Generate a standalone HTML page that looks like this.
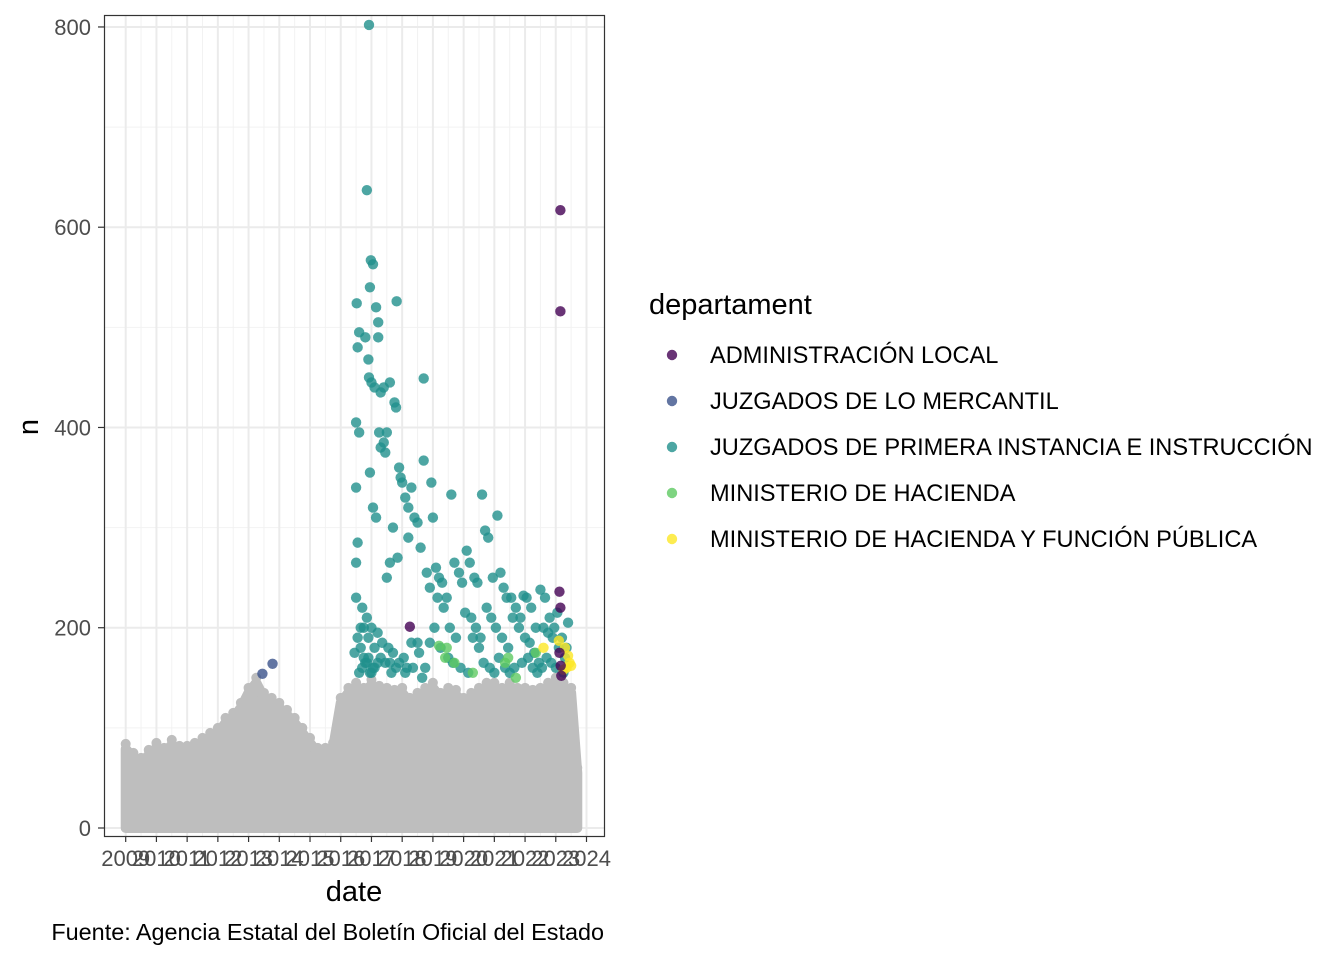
<!DOCTYPE html>
<html><head><meta charset="utf-8"><style>
body{margin:0;background:#fff;width:1344px;height:960px;overflow:hidden;font-family:"Liberation Sans",sans-serif}
</style></head><body>
<svg id="chart" width="1344" height="960" xmlns="http://www.w3.org/2000/svg" font-family="Liberation Sans, sans-serif">
<rect width="1344" height="960" fill="#fff"/>
<g id="grid"></g>
<g id="gray"></g>
<g id="pts"></g>
<rect x="104.5" y="15.5" width="500" height="821" fill="none" stroke="#333" stroke-width="1.2"/>
<g id="axes"></g>
<text x="354" y="901" font-size="29" text-anchor="middle" fill="#000">date</text>
<text transform="translate(38,427) rotate(-90)" font-size="29" text-anchor="middle" fill="#000">n</text>
<text x="604" y="940" font-size="23.4" text-anchor="end" fill="#000">Fuente: Agencia Estatal del Boletín Oficial del Estado</text>
<g id="legend">
<text x="649" y="314" font-size="29" fill="#000">departament</text>
</g>
</svg>
<script>
const yTicks=[0,200,400,600,800];
const xTicks=[2009,2010,2011,2012,2013,2014,2015,2016,2017,2018,2019,2020,2021,2022,2023,2024];
const departments=["ADMINISTRACIÓN LOCAL","JUZGADOS DE LO MERCANTIL","JUZGADOS DE PRIMERA INSTANCIA E INSTRUCCIÓN","MINISTERIO DE HACIENDA","MINISTERIO DE HACIENDA Y FUNCIÓN PÚBLICA"];
const colors=["#440154","#3b528b","#21908c","#5ec962","#fde725"];
const grayDates=[2009,2009.25,2009.5,2009.75,2010,2010.25,2010.5,2010.75,2011,2011.25,2011.5,2011.75,2012,2012.25,2012.5,2012.75,2013,2013.25,2013.5,2013.75,2014,2014.25,2014.5,2014.75,2015,2015.25,2015.5,2015.75,2016,2016.25,2016.5,2016.75,2017,2017.25,2017.5,2017.75,2018,2018.25,2018.5,2018.75,2019,2019.25,2019.5,2019.75,2020,2020.25,2020.5,2020.75,2021,2021.25,2021.5,2021.75,2022,2022.25,2022.5,2022.75,2023,2023.25,2023.5,2023.7];
const grayMax=[84,75,70,78,85,80,88,82,82,85,90,95,100,110,115,125,140,150,135,130,125,118,110,100,90,80,80,85,130,140,145,140,148,142,140,138,140,130,135,140,145,135,140,138,130,135,140,145,145,140,145,140,140,138,140,145,150,145,140,60];
const admDates=[2018.25,2023.15,2023.15,2023.12,2023.15,2023.12,2023.16,2023.18];
const admN=[201,617,516,236,220,175,162,152];
const merDates=[2013.45,2013.78];
const merN=[154,164];
const juzDates=[
2016.92,2016.85,2016.98,2017.05,2016.95,2016.52,2017.82,2017.15,2017.22,2016.6,
2016.8,2017.22,2016.55,2016.9,2017.1,2017.3,2017.4,2017.5,2017.25,2016.92,
2017.0,2017.6,2017.75,2017.8,2016.5,2016.6,2017.4,2017.3,2017.45,2016.5,
2017.9,2017.95,2018.0,2017.7,2017.85,2017.6,2016.95,2017.05,2017.15,2016.5,
2018.3,2018.1,2018.2,2017.5,2018.4,2018.2,2018.6,2018.8,2018.9,2018.7,
2018.7,2018.95,2018.5,2016.55,2016.5,2016.7,2016.85,2017.0,2017.2,2017.35,
2017.55,2017.7,2018.05,2018.15,2017.9,2016.45,2016.65,2016.9,2017.1,2017.3,
2017.6,2017.8,2018.1,2018.5,2019.0,2019.1,2019.2,2019.3,2019.45,2019.6,
2019.7,2019.85,2019.95,2020.1,2020.2,2020.35,2020.45,2020.6,2020.7,2020.8,
2020.95,2021.1,2021.2,2021.3,2021.4,2021.55,2021.7,2021.85,2021.95,2022.05,
2022.2,2022.35,2022.5,2022.65,2022.8,2022.95,2023.05,2023.2,2023.35,2019.15,
2019.35,2019.55,2019.75,2020.05,2020.25,2020.4,2020.55,2020.75,2020.9,2021.05,
2021.25,2021.45,2021.6,2021.8,2022.0,2022.15,2022.3,2022.45,2022.6,2022.75,
2022.9,2023.1,2023.3,2019.05,2019.25,2019.5,2019.65,2019.9,2020.15,2020.3,
2020.5,2020.65,2020.85,2021.0,2021.15,2021.35,2021.5,2021.65,2021.9,2022.1,
2022.25,2022.4,2022.55,2022.7,2022.85,2023.0,2023.25,2023.4,2018.3,2018.55,
2018.75,2018.9,2017.45,2017.65,2016.75,2018.35,2018.65,2016.6,2016.7,2016.8,
2016.9,2017.0,2017.1,2017.2,2016.55,2016.65,2016.75,2016.85,2016.95,2017.05];
const juzN=[
802,637,567,563,540,524,526,520,505,495,
490,490,480,468,440,435,440,395,395,450,
445,445,425,420,405,395,385,380,375,340,
360,350,345,300,270,265,355,320,310,265,
340,330,320,250,310,290,280,255,240,449,
367,345,305,285,230,220,210,200,195,185,
180,175,170,160,165,175,200,190,180,170,
165,160,155,185,310,260,250,245,230,333,
265,255,245,277,265,250,245,333,297,290,
250,312,255,240,230,230,220,210,232,230,
220,200,238,230,210,200,215,190,180,230,
220,200,190,215,210,200,190,220,210,200,
190,180,210,200,190,185,175,165,200,195,
190,180,170,200,180,170,165,160,155,190,
180,165,160,155,170,160,155,160,165,170,
160,155,160,170,165,160,155,205,185,175,
160,185,165,155,170,160,150,155,160,165,
170,155,160,165,190,180,200,165,155,160];
const hacDates=[2019.4,2019.45,2019.7,2020.3,2021.35,2021.45,2021.7,2022.35,2019.2];
const hacN=[170,180,165,155,165,170,150,175,182];
const hfpDates=[2022.6,2023.1,2023.3,2023.4,2023.45,2023.35,2023.25,2023.5];
const hfpN=[180,187,180,172,165,160,158,162];

const NS="http://www.w3.org/2000/svg";
const X=d=>125.7+(d-2009)*30.72;
const Y=v=>828-v*1.0013;
function mk(tag,attrs,parent){const e=document.createElementNS(NS,tag);for(const k in attrs)e.setAttribute(k,attrs[k]);parent.appendChild(e);return e;}
const grid=document.getElementById('grid');
mk('rect',{x:104,y:15,width:500,height:821,fill:'#fff'},grid);
for(let v=100;v<=800;v+=200){const l=mk('line',{x1:104,x2:604,y1:Y(v),y2:Y(v),stroke:'#f2f2f2','stroke-width':1},grid);

}
for(let i=0;i<xTicks.length-1;i++){const l=mk('line',{x1:X(xTicks[i]+0.5),x2:X(xTicks[i]+0.5),y1:15,y2:836,stroke:'#f2f2f2','stroke-width':1},grid);

}
yTicks.forEach(v=>{const l=mk('line',{x1:104,x2:604,y1:Y(v),y2:Y(v),stroke:'#ebebeb','stroke-width':2},grid);

});
xTicks.forEach(v=>{const l=mk('line',{x1:X(v),x2:X(v),y1:15,y2:836,stroke:'#ebebeb','stroke-width':2},grid);

});
const gray=document.getElementById('gray');
let d='M'+X(grayDates[0])+','+Y(0);
grayDates.forEach((t,i)=>{d+=' L'+X(t)+','+Y(grayMax[i]-5);});
d+=' L'+X(grayDates[grayDates.length-1])+','+Y(0)+' Z';
const poly=mk('path',{d:d,fill:'#bebebe',stroke:'#bebebe','stroke-width':10,'stroke-linejoin':'round'},gray);


grayDates.forEach((t,i)=>{const c=mk('circle',{cx:X(t),cy:Y(grayMax[i]),r:5,fill:'#bebebe'},gray);

});
const pts=document.getElementById('pts');
function series(ds,ns,col,name){const n=Math.min(ds.length,ns.length);for(let i=0;i<n;i++){const c=mk('circle',{cx:X(ds[i]),cy:Y(ns[i]),r:5.2,fill:col,'fill-opacity':0.8},pts);

}}
series(juzDates,juzN,colors[2],'point-primera-instancia');
series(hacDates,hacN,colors[3],'point-hacienda');
series(merDates,merN,colors[1],'point-mercantil');
series(hfpDates,hfpN,colors[4],'point-hacienda-funcion-publica');
series(admDates,admN,colors[0],'point-administracion-local');
const ax=document.getElementById('axes');
yTicks.forEach(v=>{mk('line',{x1:98,x2:104,y1:Y(v),y2:Y(v),stroke:'#333','stroke-width':1.2},ax);
const t=mk('text',{x:91,y:Y(v)+8,'font-size':22,'text-anchor':'end',fill:'#4d4d4d'},ax);t.textContent=v;

});
xTicks.forEach(v=>{mk('line',{x1:X(v),x2:X(v),y1:836,y2:842,stroke:'#333','stroke-width':1.2},ax);
const t=mk('text',{x:X(v),y:866,'font-size':22,'text-anchor':'middle',fill:'#4d4d4d'},ax);t.textContent=v;

});
const lg=document.getElementById('legend');
departments.forEach((n,i)=>{const y=355+i*46;
const c=mk('circle',{cx:672,cy:y,r:5.2,fill:colors[i],'fill-opacity':0.8},lg);


const t=mk('text',{x:710,y:y+8,'font-size':23.6,fill:'#000'},lg);t.textContent=n;

});
</script>
</body></html>
